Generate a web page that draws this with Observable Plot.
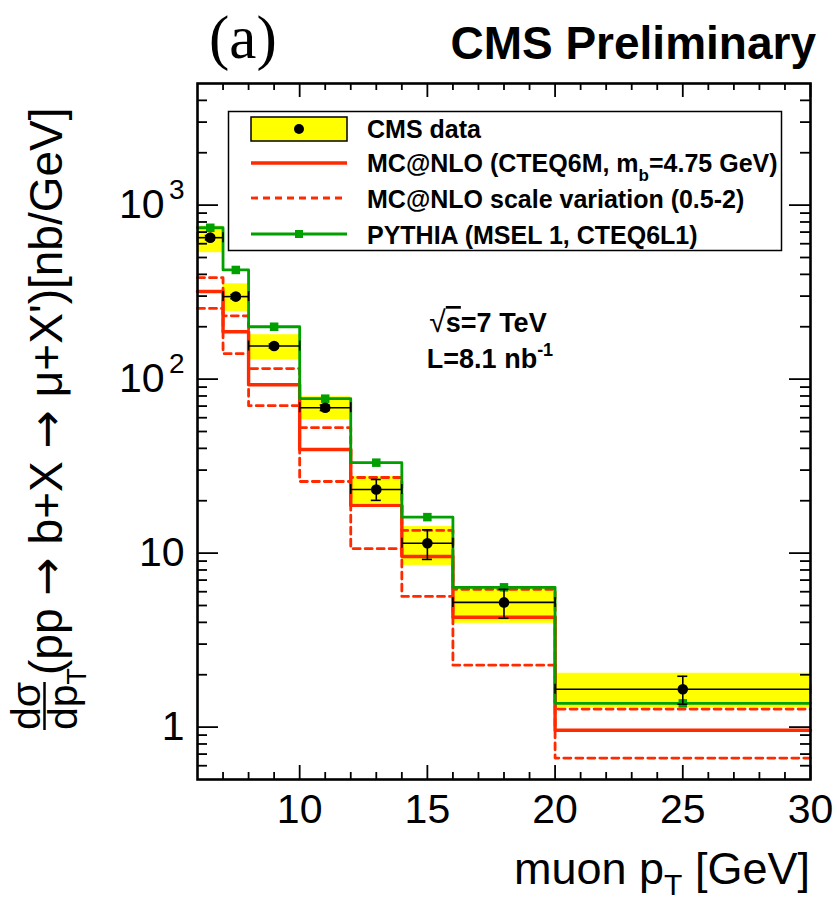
<!DOCTYPE html>
<html><head><meta charset="utf-8">
<script src="https://cdn.jsdelivr.net/npm/d3@7"></script>
<script src="https://cdn.jsdelivr.net/npm/@observablehq/plot@0.6"></script>
<style>
body{margin:0;background:#fff;}
#chart{position:relative;width:839px;height:905px;overflow:hidden;}
</style></head><body><div id="chart"></div>
<script>
// ---- data ----
const binLo     = [6, 7, 8, 10, 12, 14, 16, 20];
const binHi     = [7, 8, 10, 12, 14, 16, 20, 30];
const binCenter = [6.5, 7.5, 9, 11, 13, 15, 18, 25];
const cmsData   = [650, 298, 155, 68.5, 23.2, 11.4, 5.21, 1.65];
const cmsStatLo = [632, 290, 151, 66.0, 20.1, 9.2, 4.22, 1.355];
const cmsStatHi = [668, 306, 159, 71.0, 26.5, 13.6, 6.19, 1.96];
const cmsBandLo = [533, 245, 129, 58.5, 19.3, 8.5, 3.95, 1.285];
const cmsBandHi = [759, 353, 180, 79.2, 27.5, 14.2, 6.36, 2.04];
const mcnlo     = [319, 187, 92.9, 39.4, 18.8, 9.57, 4.28, 0.96];
const mcnloUp   = [383, 231, 115, 52.6, 27.2, 13.5, 6.19, 1.27];
const mcnloDown = [255, 140, 70.4, 25.8, 10.6, 5.64, 2.27, 0.664];
const pythia    = [741, 424, 200, 77.2, 33.1, 16.1, 6.36, 1.37];

const xMajor = [10, 15, 20, 25, 30];
const xMinor = [7, 8, 9, 11, 12, 13, 14, 16, 17, 18, 19, 21, 22, 23, 24, 26, 27, 28, 29];
const yMajor = [1, 10, 100, 1000];
const yMinor = [0.6, 0.7, 0.8, 0.9, 2, 3, 4, 5, 6, 7, 8, 9, 20, 30, 40, 50, 60, 70, 80, 90,
                200, 300, 400, 500, 600, 700, 800, 900, 2000, 3000, 4000];
const yPlainTicks = [1, 10];
const yPlainLabels = ["1", "10"];
const yPowTicks = [100, 1000];
const yPowBase = ["10", "10"];
const yPowSup = ["2", "3"];

const legendLabels = ["CMS data", "MC@NLO (CTEQ6M, m", "MC@NLO scale variation (0.5-2)", "PYTHIA (MSEL 1, CTEQ6L1)"];

// ---- layout ----
const W = 839, H = 905, ML = 197, MR = 29, MT = 83, MB = 126;
const PW = W - ML - MR, PH = H - MT - MB;
const red = "#ff2a00", green = "#00a000", yellow = "#ffff00";
const font = "'Liberation Sans', Arial, Helvetica, sans-serif";
const dash = "7,5";

function steps(vals) {
  const pts = binLo.map((x, i) => ({x, y: vals[i]}));
  pts.push({x: binHi[binHi.length - 1], y: vals[vals.length - 1]});
  return pts;
}
const bins = binLo.map((lo, i) => ({
  lo, hi: binHi[i], c: binCenter[i], v: cmsData[i],
  sLo: cmsStatLo[i], sHi: cmsStatHi[i], bLo: cmsBandLo[i], bHi: cmsBandHi[i], py: pythia[i]
}));

const tickStyle = {stroke: "black", strokeWidth: 1.8};

const plot = Plot.plot({
  width: W, height: H, marginLeft: ML, marginRight: MR, marginTop: MT, marginBottom: MB,
  style: {fontFamily: font, background: "white", overflow: "visible", color: "black"},
  x: {domain: [6, 30], axis: null},
  y: {type: "log", domain: [0.5, 5000], axis: null},
  marks: [
    Plot.rect(bins, {x1: "lo", x2: "hi", y1: "bLo", y2: "bHi", fill: yellow}),
    Plot.line(steps(mcnloUp), {x: "x", y: "y", curve: "step-after", stroke: red, strokeWidth: 2.8, strokeDasharray: dash}),
    Plot.line(steps(mcnloDown), {x: "x", y: "y", curve: "step-after", stroke: red, strokeWidth: 2.8, strokeDasharray: dash}),
    Plot.line(steps(mcnlo), {x: "x", y: "y", curve: "step-after", stroke: red, strokeWidth: 3.4}),
    Plot.line(steps(pythia), {x: "x", y: "y", curve: "step-after", stroke: green, strokeWidth: 2.8}),
    Plot.dot(bins, {x: "c", y: "py", symbol: "square", r: 4.8, fill: green}),
    Plot.ruleY(bins, {y: "v", x1: "lo", x2: "hi", stroke: "black", strokeWidth: 1.6}),
    Plot.ruleX(bins, {x: "lo", y1: "v", y2: "v", insetTop: -5, insetBottom: -5, stroke: "black", strokeWidth: 1.6}),
    Plot.ruleX(bins, {x: "hi", y1: "v", y2: "v", insetTop: -5, insetBottom: -5, stroke: "black", strokeWidth: 1.6}),
    Plot.ruleX(bins, {x: "c", y1: "sLo", y2: "sHi", stroke: "black", strokeWidth: 1.6}),
    Plot.ruleY(bins, {y: "sLo", x1: "c", x2: "c", insetLeft: -5, insetRight: -5, stroke: "black", strokeWidth: 1.6}),
    Plot.ruleY(bins, {y: "sHi", x1: "c", x2: "c", insetLeft: -5, insetRight: -5, stroke: "black", strokeWidth: 1.6}),
    Plot.dot(bins, {x: "c", y: "v", r: 5.3, fill: "black"}),
    Plot.ruleX(xMajor, {x: d => d, insetTop: PH - 14, ...tickStyle}),
    Plot.ruleX(xMinor, {x: d => d, insetTop: PH - 7, ...tickStyle}),
    Plot.ruleX(xMajor, {x: d => d, insetBottom: PH - 14, ...tickStyle}),
    Plot.ruleX(xMinor, {x: d => d, insetBottom: PH - 7, ...tickStyle}),
    Plot.ruleY(yMajor, {y: d => d, insetRight: PW - 21, ...tickStyle}),
    Plot.ruleY(yMinor, {y: d => d, insetRight: PW - 10, ...tickStyle}),
    Plot.ruleY(yMajor, {y: d => d, insetLeft: PW - 21, ...tickStyle}),
    Plot.ruleY(yMinor, {y: d => d, insetLeft: PW - 10, ...tickStyle}),
    Plot.frame({stroke: "black", strokeWidth: 2.6}),
    Plot.text(xMajor, {x: d => d, frameAnchor: "bottom", dy: 43, text: d => String(d), fontSize: 41, fill: "black"}),
    Plot.text(yPlainTicks, {y: d => d, frameAnchor: "left", dx: -13, textAnchor: "end", text: (d, i) => yPlainLabels[i], fontSize: 41, fill: "black"}),
    Plot.text(yPowTicks, {y: d => d, frameAnchor: "left", dx: -33, textAnchor: "end", text: (d, i) => yPowBase[i], fontSize: 41, fill: "black"}),
    Plot.text(yPowTicks, {y: d => d, frameAnchor: "left", dx: -13, dy: -15, textAnchor: "end", text: (d, i) => yPowSup[i], fontSize: 28, fill: "black"})
  ]
});

document.getElementById("chart").appendChild(plot);
const svg = d3.select(plot);

// Title texts
svg.append("text").attr("x", 209).attr("y", 58).attr("text-anchor", "start")
  .attr("font-family", "'Liberation Serif', 'Times New Roman', serif").attr("font-size", 61)
  .attr("fill", "black").text("(a)");
svg.append("text").attr("x", 816).attr("y", 59).attr("text-anchor", "end")
  .attr("font-family", font).attr("font-weight", "bold").attr("font-size", 46)
  .attr("fill", "black").text("CMS Preliminary");

// x axis title
const xt = svg.append("text").attr("x", 810).attr("y", 884).attr("text-anchor", "end")
  .attr("font-family", font).attr("font-size", 45).attr("fill", "black");
xt.append("tspan").text("muon p");
xt.append("tspan").attr("font-size", 30).attr("dy", 11).text("T");
xt.append("tspan").attr("dy", -11).text(" [GeV]");

// y axis title (rotated)
const yg = svg.append("g").attr("transform", "rotate(-90)")
  .attr("font-family", font).attr("fill", "black").attr("text-anchor", "start");
yg.append("text").attr("x", -706).attr("y", 40).attr("text-anchor", "middle").attr("font-size", 41).text("dσ");
yg.append("line").attr("x1", -730).attr("x2", -682).attr("y1", 44.5).attr("y2", 44.5)
  .attr("stroke", "black").attr("stroke-width", 2.5);
const den = yg.append("text").attr("x", -730).attr("y", 77).attr("font-size", 41);
den.append("tspan").text("dp");
den.append("tspan").attr("font-size", 27).attr("dy", 9).text("T");
const ymain = yg.append("text").attr("x", -675).attr("y", 62).attr("font-size", 46);
const yParts = ["(pp ", "→", " b+X ", "→", " μ+X')[nb/GeV]"];
yParts.forEach(p => {
  const t = ymain.append("tspan").text(p);
  if (p === "→") t.attr("font-family", "'DejaVu Sans', sans-serif");
});

// legend
const lg = svg.append("g").attr("font-family", font).attr("font-weight", "bold").attr("font-size", 25)
  .attr("fill", "black").attr("text-anchor", "start");
lg.append("rect").attr("x", 228.5).attr("y", 111.5).attr("width", 553).attr("height", 139)
  .attr("fill", "white").attr("stroke", "black").attr("stroke-width", 1.5);
lg.append("rect").attr("x", 251).attr("y", 117).attr("width", 96).attr("height", 24)
  .attr("fill", yellow).attr("stroke", "black").attr("stroke-width", 1.5);
lg.append("circle").attr("cx", 299).attr("cy", 129).attr("r", 5).attr("fill", "black");
lg.append("line").attr("x1", 251).attr("x2", 347).attr("y1", 163).attr("y2", 163).attr("stroke", red).attr("stroke-width", 3.4);
lg.append("line").attr("x1", 251).attr("x2", 347).attr("y1", 198).attr("y2", 198).attr("stroke", red).attr("stroke-width", 2.8).attr("stroke-dasharray", dash);
lg.append("line").attr("x1", 251).attr("x2", 347).attr("y1", 234).attr("y2", 234).attr("stroke", green).attr("stroke-width", 2.8);
lg.append("rect").attr("x", 295).attr("y", 230).attr("width", 8).attr("height", 8).attr("fill", green);
lg.append("text").attr("x", 367).attr("y", 138).text(legendLabels[0]);
const l2 = lg.append("text").attr("x", 367).attr("y", 172);
l2.append("tspan").text(legendLabels[1]);
l2.append("tspan").attr("font-size", 17).attr("dy", 9).text("b");
l2.append("tspan").attr("dy", -9).text("=4.75 GeV)");
lg.append("text").attr("x", 367).attr("y", 208).text(legendLabels[2]);
lg.append("text").attr("x", 367).attr("y", 244).text(legendLabels[3]);

// energy / lumi
const e1 = svg.append("text").attr("x", 488).attr("y", 332).attr("text-anchor", "middle")
  .attr("font-family", font).attr("font-weight", "bold").attr("font-size", 27).attr("fill", "black");
e1.append("tspan").attr("font-weight", "normal").attr("font-size", 30).text("√");
e1.append("tspan").attr("style", "text-decoration: overline").text("s");
e1.append("tspan").text("=7 TeV");
const e2 = svg.append("text").attr("x", 490).attr("y", 368).attr("text-anchor", "middle")
  .attr("font-family", font).attr("font-weight", "bold").attr("font-size", 27).attr("fill", "black");
e2.append("tspan").text("L=8.1 nb");
e2.append("tspan").attr("font-size", 18).attr("dy", -12).text("-1");
</script></body></html>
